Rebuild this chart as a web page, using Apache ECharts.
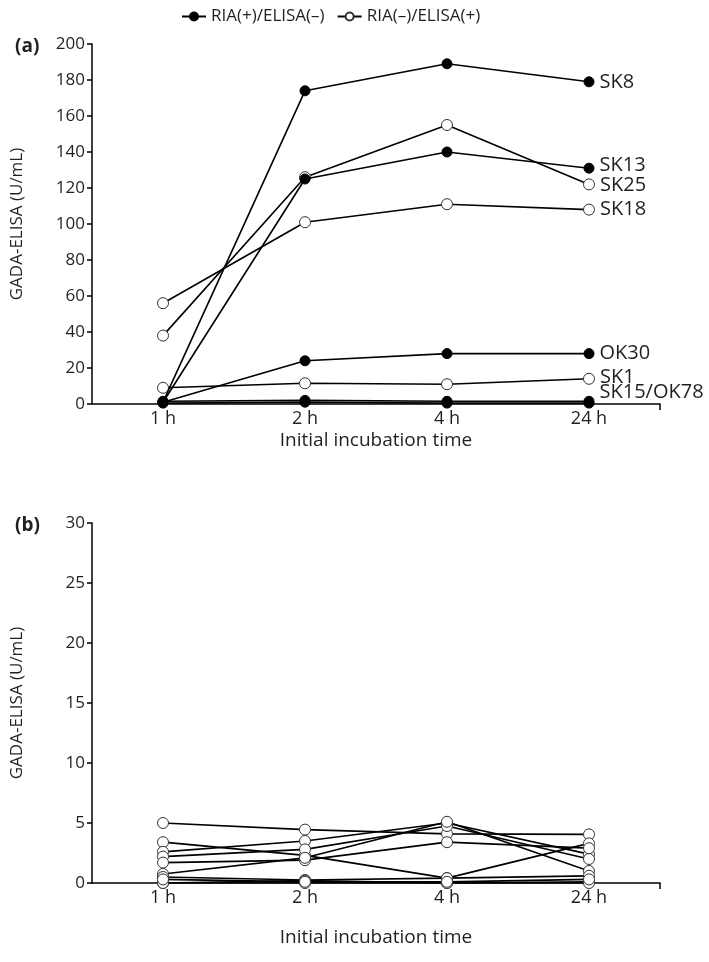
<!DOCTYPE html>
<html>
<head>
<meta charset="utf-8">
<script src="https://cdn.jsdelivr.net/npm/echarts@6/dist/echarts.min.js"></script>
<style>
html,body{margin:0;padding:0;background:#fff;}
#chart{width:709px;height:962px;}
</style>
</head>
<body>
<div id="chart"></div>
<script>
// ---- data ----
const times = ['1 h', '2 h', '4 h', '24 h'];
const groupPos = 'RIA(+)/ELISA(–)';
const groupNeg = 'RIA(–)/ELISA(+)';

// panel (a)
const aNames = ['SK8', 'SK13', 'SK25', 'SK18', 'OK30', 'SK1', 'SK15/OK78', ''];
const aFilled = [true, true, false, false, true, false, true, true];
const sk8 = [1, 174, 189, 179];
const sk13 = [1, 125, 140, 131];
const sk25 = [38, 126, 155, 122];
const sk18 = [56, 101, 111, 108];
const ok30 = [1, 24, 28, 28];
const sk1 = [9, 11.5, 11, 14];
const sk15 = [1.5, 2, 1.5, 1.5];
const ok78 = [0.5, 1, 0.5, 0.5];
const aValues = [sk8, sk13, sk25, sk18, ok30, sk1, sk15, ok78];
const aLabelOffsets = [0, -3, 1, 0, 0, -2, -9, 0];

// panel (b)
const b1 = [5.0, 4.45, 4.1, 4.05];
const b2 = [3.4, 2.3, 0.4, 3.3];
const b3 = [2.6, 3.5, 5.0, 2.4];
const b4 = [2.2, 2.8, 4.75, 2.0];
const b5 = [1.7, 1.9, 3.4, 2.9];
const b6 = [0.75, 2.1, 5.1, 1.0];
const b7 = [0.5, 0.25, 0.4, 0.6];
const b8 = [0, 0, 0, 0.1];
const b9 = [0, 0.2, 0, 0];
const b10 = [0.3, 0.1, 0.1, 0.3];
const bValues = [b1, b2, b3, b4, b5, b6, b7, b8, b9, b10];

// ---- styling ----
const FONT = 'Open Sans';
const TXT = '#231f20';

function yAxisCfg(gridIndex, max, interval) {
  return {
    type: 'value', gridIndex: gridIndex, min: 0, max: max, interval: interval,
    name: 'GADA-ELISA (U/mL)', nameLocation: 'middle', nameGap: 66,
    nameTextStyle: { fontFamily: FONT, fontSize: 17, color: TXT },
    axisLine: { show: true, lineStyle: { color: '#000', width: 1.5 } },
    axisTick: { show: true, length: 5, lineStyle: { color: '#000', width: 1.5 } },
    axisLabel: { fontFamily: FONT, fontSize: 17, color: TXT, margin: 7 },
    splitLine: { show: false }
  };
}
function xAxisCfg(gridIndex, nameGap) {
  return {
    type: 'category', gridIndex: gridIndex, data: times, boundaryGap: true,
    name: 'Initial incubation time', nameLocation: 'middle', nameGap: nameGap,
    nameTextStyle: { fontFamily: FONT, fontSize: 19, color: TXT },
    axisLine: { show: true, lineStyle: { color: '#000', width: 1.5 } },
    axisTick: { show: false },
    axisLabel: { fontFamily: FONT, fontSize: 18, color: TXT, margin: 6 },
    splitLine: { show: false }
  };
}
function endTickAxis(gridIndex) {
  return {
    type: 'value', gridIndex: gridIndex, min: 0, max: times.length, position: 'bottom',
    axisLine: { show: false }, axisLabel: { show: false }, splitLine: { show: false },
    axisTick: { show: true, length: 6, customValues: [times.length], lineStyle: { color: '#000', width: 1.5 } }
  };
}

const series = [];
aValues.forEach(function (vals, i) {
  const filled = aFilled[i];
  const data = vals.map(function (v, j) {
    if (j === vals.length - 1 && aNames[i]) {
      return { value: v, label: { show: true, formatter: aNames[i], position: 'right', distance: 5,
        offset: [0, aLabelOffsets[i]], fontFamily: FONT, fontSize: 20, color: TXT } };
    }
    return v;
  });
  series.push({
    type: 'line', name: filled ? groupPos : groupNeg, xAxisIndex: 0, yAxisIndex: 0,
    data: data, symbol: 'circle', symbolSize: filled ? 10 : 11,
    lineStyle: { color: '#000', width: 1.6 },
    itemStyle: { color: filled ? '#000' : '#fff', borderColor: filled ? '#000' : '#333', borderWidth: 1 },
    label: { show: false }, z: filled ? 3 : 2, animation: false
  });
});
bValues.forEach(function (vals) {
  series.push({
    type: 'line', name: 'b', xAxisIndex: 2, yAxisIndex: 1,
    data: vals, symbol: 'circle', symbolSize: 11,
    lineStyle: { color: '#000', width: 1.7 },
    itemStyle: { color: '#fff', borderColor: '#333', borderWidth: 1 },
    animation: false
  });
});

const option = {
  backgroundColor: '#fff',
  animation: false,
  title: [
    { text: '(a)', left: 10, top: 32, textStyle: { fontFamily: FONT, fontSize: 19, fontWeight: 'bold', color: TXT } },
    { text: '(b)', left: 10, top: 511, textStyle: { fontFamily: FONT, fontSize: 19, fontWeight: 'bold', color: TXT } }
  ],
  legend: {
    data: [groupPos, groupNeg], top: 3, left: 176, itemWidth: 24, itemHeight: 10, itemGap: 12,
    textStyle: { fontFamily: FONT, fontSize: 17, color: TXT }
  },
  grid: [
    { left: 92, top: 44, width: 568, height: 360 },
    { left: 92, top: 523, width: 568, height: 360 }
  ],
  xAxis: [xAxisCfg(0, 27), endTickAxis(0), xAxisCfg(1, 45), endTickAxis(1)],
  yAxis: [yAxisCfg(0, 200, 20), yAxisCfg(1, 30, 5)],
  series: series
};

const chart = echarts.init(document.getElementById('chart'), null, { renderer: 'canvas' });
chart.setOption(option);
</script>
</body>
</html>
